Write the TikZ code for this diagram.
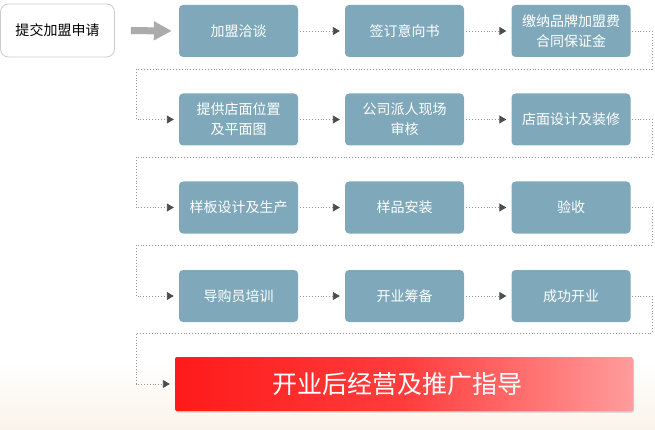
\documentclass[tikz,border=0pt]{standalone}
\usepackage{fontspec}
\setmainfont{Noto Sans CJK SC}
\usepackage{tikz}
\usetikzlibrary{arrows.meta}
\usetikzlibrary{shadows}

\definecolor{stepblue}{HTML}{7FA9BA}
\definecolor{warmbg}{HTML}{FAF3EA}
\definecolor{lastred}{HTML}{FF1A1A}
\definecolor{lastpink}{HTML}{FF9C9C}

\begin{document}
\begin{tikzpicture}[x=1pt,y=-1pt,
  stepbox/.style={rectangle,rounded corners=4pt,fill=stepblue,text=white,
     minimum width=119pt,minimum height=52pt,inner sep=1pt,align=center,
     font=\fontsize{14}{20}\selectfont},
  link/.style={dotted,line width=0.9pt,color=gray!85,
     -{Triangle[length=7pt,width=8pt,color=black!70]},
     shorten <=2pt,shorten >=5pt}]

\useasboundingbox (0,0) rectangle (655,430);
\fill[top color=white,bottom color=warmbg] (0,360) rectangle (655,430);

% start
\node[draw=black!20,line width=0.8pt,rounded corners=8pt,fill=white,
   minimum width=114pt,minimum height=53pt,font=\fontsize{14}{18}\selectfont]
   (apply) at (57.5,30.5) {提交加盟申请};

% steps
\node[stepbox] (talk)    at (238.5,31)  {加盟洽谈};
\node[stepbox] (sign)    at (404.5,31)  {签订意向书};
\node[stepbox] (pay)     at (571,31)    {缴纳品牌加盟费\\合同保证金};

\node[stepbox] (site)    at (238.5,119.5) {提供店面位置\\及平面图};
\node[stepbox] (check)   at (404.5,119.5) {公司派人现场\\审核};
\node[stepbox] (design)  at (571,119.5)   {店面设计及装修};

\node[stepbox] (sample)  at (238.5,207.5) {样板设计及生产};
\node[stepbox] (install) at (404.5,207.5) {样品安装};
\node[stepbox] (accept)  at (571,207.5)   {验收};

\node[stepbox] (train)   at (238.5,296) {导购员培训};
\node[stepbox] (prepare) at (404.5,296) {开业筹备};
\node[stepbox] (open)    at (571,296)   {成功开业};

\node[rectangle,rounded corners=2pt,minimum width=458pt,minimum height=54pt,
   left color=lastred,right color=lastpink,middle color=lastred!85!white,
   drop shadow={shadow xshift=1pt,shadow yshift=-1.5pt,opacity=0.35},
   text=white,font=\fontsize{25}{30}\selectfont]
   (guide) at (404,384) {开业后经营及推广指导\hspace*{14pt}};

% turn points
\coordinate (r1) at (652,69);  \coordinate (l1) at (136,69);
\coordinate (r2) at (652,157); \coordinate (l2) at (136,157);
\coordinate (r3) at (652,245); \coordinate (l3) at (136,245);
\coordinate (r4) at (652,333); \coordinate (l4) at (136,333);

\draw[line width=7pt,color=black!33,-{Triangle[length=18pt,width=18pt]},
   shorten <=16pt,shorten >=7pt] (apply.east) -- (talk.west);

\draw[link] (talk) -- (sign);
\draw[link] (sign) -- (pay);
\draw[link,shorten <=1pt] (pay.east) -| (r1) -- (l1) |- (site.west);

\draw[link] (site) -- (check);
\draw[link] (check) -- (design);
\draw[link,shorten <=1pt] (design.east) -| (r2) -- (l2) |- (sample.west);

\draw[link] (sample) -- (install);
\draw[link] (install) -- (accept);
\draw[link,shorten <=1pt] (accept.east) -| (r3) -- (l3) |- (train.west);

\draw[link] (train) -- (prepare);
\draw[link] (prepare) -- (open);
\draw[link,shorten <=1pt] (open.east) -| (r4) -- (l4) |- (guide.west);

\end{tikzpicture}
\end{document}
